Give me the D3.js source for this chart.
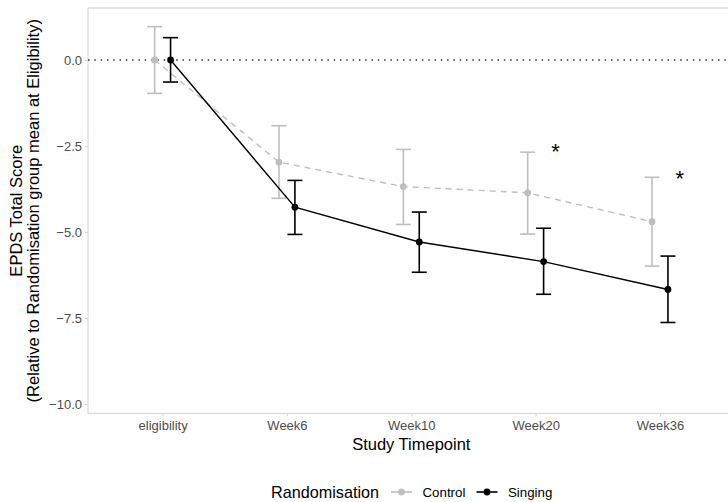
<!DOCTYPE html>
<html>
<head>
<meta charset="utf-8">
<script src="https://cdn.jsdelivr.net/npm/d3@7"></script>
<style>
  body { margin: 0; background: #fff; }
  svg { font-family: "Liberation Sans", Arial, sans-serif; }
</style>
</head>
<body>
<div id="chart"></div>
<script>
// data
const timepoints = ["eligibility", "Week6", "Week10", "Week20", "Week36"];

const controlMean = [0, -2.97, -3.68, -3.86, -4.70];
const controlLow  = [-0.97, -4.02, -4.78, -5.06, -5.99];
const controlHigh = [0.97, -1.91, -2.60, -2.68, -3.41];

const singingMean = [0, -4.28, -5.29, -5.86, -6.67];
const singingLow  = [-0.64, -5.07, -6.17, -6.81, -7.63];
const singingHigh = [0.65, -3.50, -4.42, -4.89, -5.70];

const starTimepoints = ["Week20", "Week36"];
const starValues = [-2.53, -3.32];

const yTicks = [0, -2.5, -5, -7.5, -10];

let width = 728;
let height = 502;
let panel = { left: 88, right: 734.6, top: 8, bottom: 413.5 };

let svg = d3.select("#chart").append("svg")
  .attr("width", width)
  .attr("height", height);

// discrete x positions (the panel runs off the right edge of the image)
let x = d3.scalePoint()
  .domain(timepoints)
  .range([panel.left, panel.right])
  .padding(0.6);

let y = d3.scaleLinear()
  .domain([-10.276, 1.512])
  .range([panel.bottom, panel.top]);

let dodge = x.step() * 0.064;

svg.append("rect")
  .attr("x", panel.left)
  .attr("y", panel.top)
  .attr("width", panel.right - panel.left)
  .attr("height", panel.bottom - panel.top)
  .attr("fill", "none")
  .attr("stroke", "#d6d6d6")
  .attr("stroke-width", 1.1);

// reference line at 0
svg.append("line")
  .attr("x1", panel.left)
  .attr("x2", panel.right)
  .attr("y1", y(0))
  .attr("y2", y(0))
  .attr("stroke", "#333")
  .attr("stroke-width", 1.5)
  .attr("stroke-dasharray", "1.5,4.8");

let yAxis = d3.axisLeft(y)
  .tickValues(yTicks)
  .tickFormat(d3.format(".1f"))
  .tickSize(3)
  .tickPadding(3);

let gy = svg.append("g")
  .attr("transform", `translate(${panel.left},0)`)
  .call(yAxis);
gy.select(".domain").remove();
gy.selectAll("line").attr("stroke", "#d6d6d6");
gy.selectAll("text").attr("fill", "#4d4d4d").style("font-size", "13px");

let xAxis = d3.axisBottom(x)
  .tickSize(3)
  .tickPadding(4);

let gx = svg.append("g")
  .attr("transform", `translate(0,${panel.bottom})`)
  .call(xAxis);
gx.select(".domain").remove();
gx.selectAll("line").attr("stroke", "#d6d6d6");
gx.selectAll("text").attr("fill", "#4d4d4d").style("font-size", "13px");

const series = [
  { name: "Control", mean: controlMean, low: controlLow, high: controlHigh,
    color: "#bfbfbf", dash: "6,5", offset: -dodge },
  { name: "Singing", mean: singingMean, low: singingLow, high: singingHigh,
    color: "#000", dash: null, offset: dodge }
];

let line = d3.line()
  .x(function (d) { return d.x; })
  .y(function (d) { return y(d.v); });

series.forEach(function (s) {
  let pts = timepoints.map(function (t, i) {
    return { x: x(t) + s.offset, v: s.mean[i], lo: s.low[i], hi: s.high[i] };
  });

  let g = svg.append("g").attr("class", "series");

  g.append("path")
    .datum(pts)
    .attr("d", line)
    .attr("fill", "none")
    .attr("stroke", s.color)
    .attr("stroke-width", 1.4)
    .attr("stroke-dasharray", s.dash);

  let err = g.selectAll(".err")
    .data(pts)
    .enter()
    .append("g")
    .attr("stroke", s.color)
    .attr("stroke-width", 1.6);

  err.append("line")
    .attr("x1", function (d) { return d.x; })
    .attr("x2", function (d) { return d.x; })
    .attr("y1", function (d) { return y(d.lo); })
    .attr("y2", function (d) { return y(d.hi); });

  err.append("line")
    .attr("x1", function (d) { return d.x - 7.5; })
    .attr("x2", function (d) { return d.x + 7.5; })
    .attr("y1", function (d) { return y(d.hi); })
    .attr("y2", function (d) { return y(d.hi); });

  err.append("line")
    .attr("x1", function (d) { return d.x - 7.5; })
    .attr("x2", function (d) { return d.x + 7.5; })
    .attr("y1", function (d) { return y(d.lo); })
    .attr("y2", function (d) { return y(d.lo); });

  g.selectAll("circle")
    .data(pts)
    .enter()
    .append("circle")
    .attr("cx", function (d) { return d.x; })
    .attr("cy", function (d) { return y(d.v); })
    .attr("r", 3.4)
    .attr("fill", s.color);
});

// significance stars
svg.selectAll(".star")
  .data(starTimepoints)
  .enter()
  .append("text")
  .attr("class", "star")
  .attr("x", function (d) { return x(d) + x.step() * 0.16; })
  .attr("y", function (d, i) { return y(starValues[i]); })
  .attr("dy", "0.55em")
  .attr("text-anchor", "middle")
  .style("font-size", "22px")
  .attr("fill", "#000")
  .text("*");

// axis titles
svg.append("text")
  .attr("x", (panel.left + panel.right) / 2)
  .attr("y", 450)
  .attr("text-anchor", "middle")
  .style("font-size", "16.5px")
  .attr("fill", "#000")
  .text("Study Timepoint");

let yt = svg.append("text")
  .attr("transform", `translate(22,${(panel.top + panel.bottom) / 2}) rotate(-90)`)
  .attr("text-anchor", "middle")
  .style("font-size", "16.5px")
  .attr("fill", "#000");
yt.append("tspan").attr("x", 0).attr("dy", 0).text("EPDS Total Score");
yt.append("tspan").attr("x", 0).attr("dy", 16.5).text("(Relative to Randomisation group mean at Eligibility)");

// legend
let legend = svg.append("g").attr("transform", "translate(0,492)");

legend.append("text")
  .attr("x", 271)
  .attr("y", 6)
  .style("font-size", "16.2px")
  .attr("fill", "#000")
  .text("Randomisation");

let keyX = [391, 476.5];
series.forEach(function (s, i) {
  let k = legend.append("g").attr("transform", `translate(${keyX[i]},0)`);
  k.append("line")
    .attr("x1", 0).attr("x2", 21)
    .attr("y1", 0).attr("y2", 0)
    .attr("stroke", s.color)
    .attr("stroke-width", 1.6);
  k.append("circle")
    .attr("cx", 10.5).attr("cy", 0).attr("r", 3.4)
    .attr("fill", s.color);
  k.append("text")
    .attr("x", 31.5)
    .attr("y", 4.8)
    .style("font-size", "13.3px")
    .attr("fill", "#000")
    .text(s.name);
});
</script>
</body>
</html>
